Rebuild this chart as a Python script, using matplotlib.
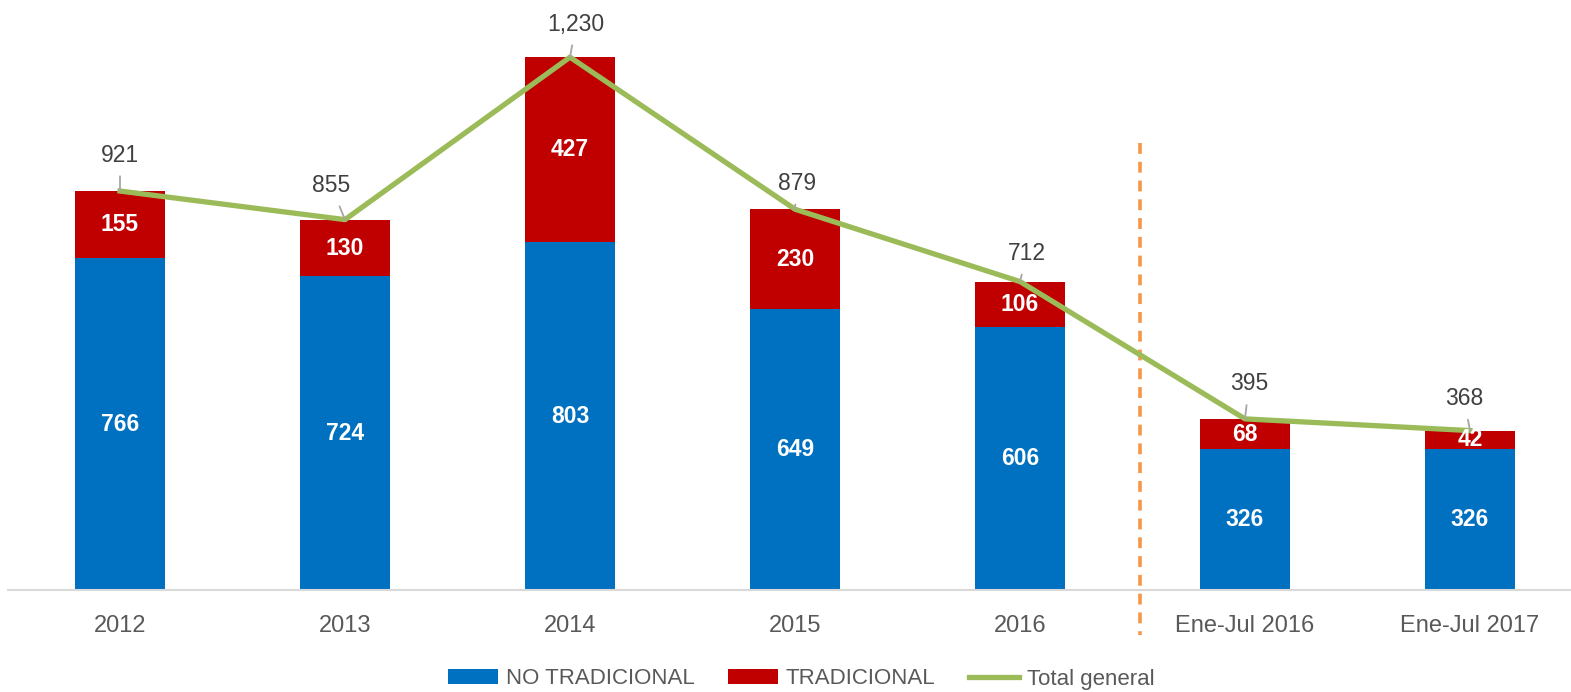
import matplotlib
matplotlib.use("Agg")
import matplotlib.pyplot as plt
import numpy as np

categories = ["2012", "2013", "2014", "2015", "2016", "Ene-Jul 2016", "Ene-Jul 2017"]
no_tradicional = [766, 724, 803, 649, 606, 326, 326]
tradicional = [155, 130, 427, 230, 106, 68, 42]
total_general = [921, 855, 1230, 879, 712, 395, 368]

plt.rcParams['font.family'] = ['Liberation Sans Narrow', 'Liberation Sans', 'DejaVu Sans']

blue = "#0070C0"
red = "#C00000"
green = "#9BBB59"
grey = "#595959"

W, H = 1571, 692
fig = plt.figure(figsize=(W / 100, H / 100), dpi=100)
ax = fig.add_axes([7.5 / W, (H - 590) / H, 1 - 7.5 / W, 590 / H])

x = np.arange(len(categories))
b1 = ax.bar(x, no_tradicional, width=0.4, color=blue, label="NO TRADICIONAL", zorder=2)
b2 = ax.bar(x, tradicional, width=0.4, bottom=no_tradicional, color=red, label="TRADICIONAL", zorder=2)
ln, = ax.plot(x, total_general, color=green, lw=3.8, label="Total general", zorder=4,
              solid_joinstyle='round')

# segment labels
for i in range(len(x)):
    ax.text(x[i], no_tradicional[i] / 2, str(no_tradicional[i]), ha='center', va='center',
            color='white', fontsize=16.5, fontweight='bold', zorder=3)
    ax.text(x[i], no_tradicional[i] + tradicional[i] / 2, str(tradicional[i]), ha='center',
            va='center', color='white', fontsize=16.5, fontweight='bold', zorder=5)

# total labels with leader lines (offsets in pixels)
offsets = [(0, 36), (-14, 34), (6, 33), (2, 26), (7, 28), (4, 35), (-6, 32)]
for i, (dx, dy) in enumerate(offsets):
    ax.annotate(f"{total_general[i]:,}", xy=(x[i], total_general[i]), xytext=(dx, dy),
                textcoords='offset pixels', ha='center', va='center', fontsize=16.5,
                color="#404040", zorder=6,
                arrowprops=dict(arrowstyle='-', color='#A6A6A6', lw=1.3,
                                shrinkA=5, shrinkB=0))

# separator between annual and partial periods
ax.plot([4.533, 4.533], [1031, -104], color="#F79646", lw=2.6, ls=(0, (3, 2.2)),
        clip_on=False, zorder=1)

ax.set_xlim(-0.5, 6.5 - 11.5 / 225)
ax.set_ylim(0, 1362)
ax.set_yticks([])
for s in ['top', 'right', 'left']:
    ax.spines[s].set_visible(False)
ax.spines['bottom'].set_color("#D9D9D9")
ax.spines['bottom'].set_linewidth(1.5)
ax.set_xticks(x)
ax.set_xticklabels(categories, fontsize=17, color=grey)
ax.tick_params(axis='x', length=0, pad=18)

fig.legend(handles=[b1, b2, ln], loc='center', bbox_to_anchor=(0.51, 1 - 679 / H), ncol=3,
           frameon=False, fontsize=16, labelcolor=grey, handlelength=2.25, handleheight=0.63,
           handletextpad=0.36, columnspacing=1.5)

fig.savefig("out.png", dpi=100)
